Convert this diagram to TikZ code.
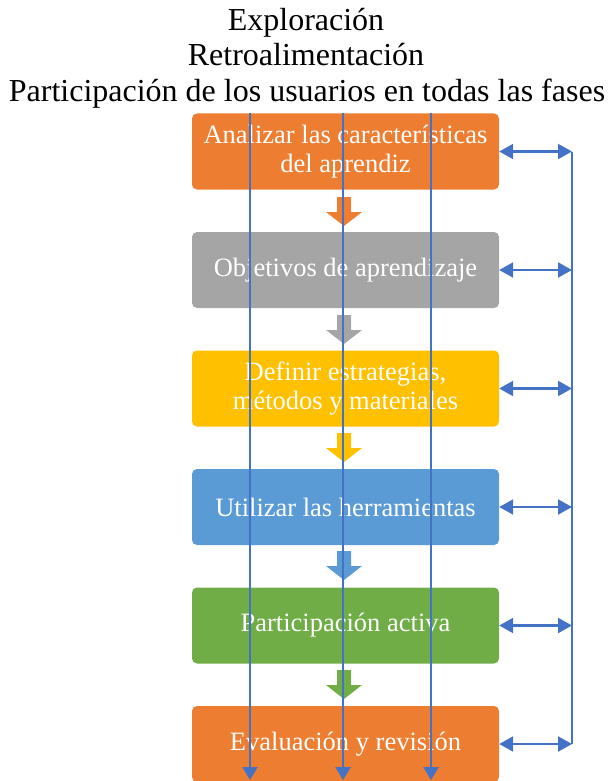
\documentclass[tikz,border=0pt]{standalone}
\usepackage{fontspec}
\setmainfont{Liberation Serif}
\usetikzlibrary{arrows.meta}
\definecolor{corange}{HTML}{ED7D31}
\definecolor{cgray}{HTML}{A5A5A5}
\definecolor{cyellow}{HTML}{FFC000}
\definecolor{cblue}{HTML}{5B9BD5}
\definecolor{cgreen}{HTML}{70AD47}
\definecolor{cline}{HTML}{4472C4}
\begin{document}
\begin{tikzpicture}[x=1pt,y=-1pt,
  stepbox/.style={rounded corners=5pt, minimum width=307pt, minimum height=76pt, inner sep=0pt,
    text=white, align=center, font=\fontsize{26.5}{29}\selectfont},
  link/.style={cline, line width=2.2pt},
  tip/.style={-{Triangle[width=15pt,length=13pt]}},
  dtip/.style={{Triangle[width=15pt,length=14pt]}-{Triangle[width=15pt,length=14pt]}},
  titletext/.style={font=\fontsize{32}{36}\selectfont, inner sep=0pt}]
\useasboundingbox (0,0) rectangle (612,781);
\node[titletext, anchor=base] (t1) at (306,31) {Exploración};
\node[titletext, anchor=base] (t2) at (306,66) {Retroalimentación};
\node[titletext, anchor=base] (t3) at (307,102) {Participación de los usuarios en todas las fases};

\node[stepbox, fill=corange] (b1) at (345.5,151.5) {Analizar las características\\del aprendiz};
\node[stepbox, fill=cgray] (b2) at (345.5,270) {Objetivos de aprendizaje};
\node[stepbox, fill=cyellow] (b3) at (345.5,388.5) {Definir estrategias,\\métodos y materiales};
\node[stepbox, fill=cblue] (b4) at (345.5,507) {Utilizar las herramientas};
\node[stepbox, fill=cgreen] (b5) at (345.5,625.5) {Participación activa};
\node[stepbox, fill=corange] (b6) at (345.5,744) {Evaluación y revisión};

% block arrows
\foreach \y/\c in {197/corange, 315/cgray, 433/cyellow, 551/cblue, 670/cgreen}{
  \fill[\c] (337,\y) -- (351,\y) -- (351,\y+15) -- (362,\y+15) -- (344,\y+29) -- (326,\y+15) -- (337,\y+15) -- cycle;
}

% vertical lines
\foreach \x/\n in {250/a, 343/b, 431/c}{
  \coordinate (top\n) at (\x,113);
  \coordinate (bot\n) at (\x,780);
  \draw[link, tip] (top\n) -- (bot\n);
}

% right bus
\coordinate (r1) at (572,151.5);
\coordinate (r6) at (572,744);
\draw[link] (r1) -- (r6);
\foreach \i/\y in {1/151.5,2/270,3/388.5,4/507,5/625.5,6/744}{
  \coordinate (rr\i) at (572,\y);
  \draw[link, dtip] (b\i.east) -- (rr\i);
}
\end{tikzpicture}
\end{document}
